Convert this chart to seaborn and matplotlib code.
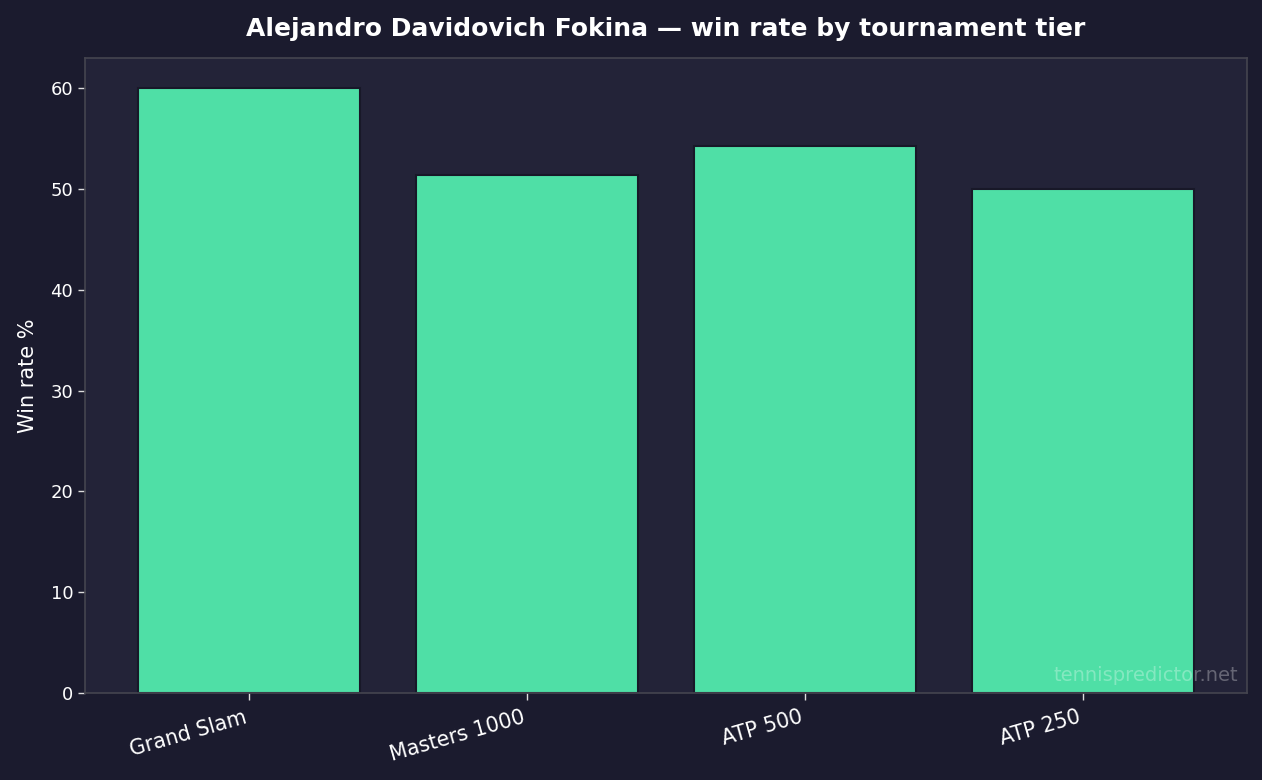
import matplotlib
matplotlib.use("Agg")
import matplotlib.pyplot as plt
import seaborn as sns
import pandas as pd

tiers = ["Grand Slam", "Masters 1000", "ATP 500", "ATP 250"]
win_rates = [60.0, 51.4, 54.3, 50.0]

BG = "#1b1b2e"
AX_BG = "#232338"
BAR = "#4fdfa6"
SPINE = "#45454f"

sns.set_style("dark")
plt.rcParams["font.family"] = ["DejaVu Sans"]

df = pd.DataFrame({"tier": tiers, "win": win_rates})

fig = plt.figure(figsize=(12.62, 7.8), dpi=100, facecolor=BG)
ax = fig.add_axes([85/1262, 1 - 693/780, (1247-85)/1262, (693-58)/780])
ax.set_facecolor(AX_BG)

sns.barplot(data=df, x="tier", y="win", ax=ax, color=BAR, saturation=1,
            width=0.8, edgecolor="#181828", linewidth=1.5)

ax.set_xlim(-0.59, 3.59)
ax.set_ylim(0, 63)
ax.grid(False)

for s in ax.spines.values():
    s.set_visible(True)
    s.set_color(SPINE)
    s.set_linewidth(1.2)

ax.tick_params(axis="both", colors="#dddddd", labelcolor="white",
               length=5, width=1, bottom=True, left=True)
ax.tick_params(axis="y", labelsize=13)
ax.tick_params(axis="x", labelsize=14.8, pad=5)
plt.setp(ax.get_xticklabels(), rotation=16, ha="right")

ax.set_xlabel("")
ax.set_ylabel("Win rate %", color="white", fontsize=15, labelpad=9)

ax.set_title("Alejandro Davidovich Fokina \u2014 win rate by tournament tier",
             color="white", fontsize=18, fontweight="bold", pad=16)

ax.text(0.992, 0.012, "tennispredictor.net", transform=ax.transAxes,
        ha="right", va="bottom", color="white", alpha=0.3, fontsize=14)

fig.savefig("out.png", dpi=100, facecolor=BG)
